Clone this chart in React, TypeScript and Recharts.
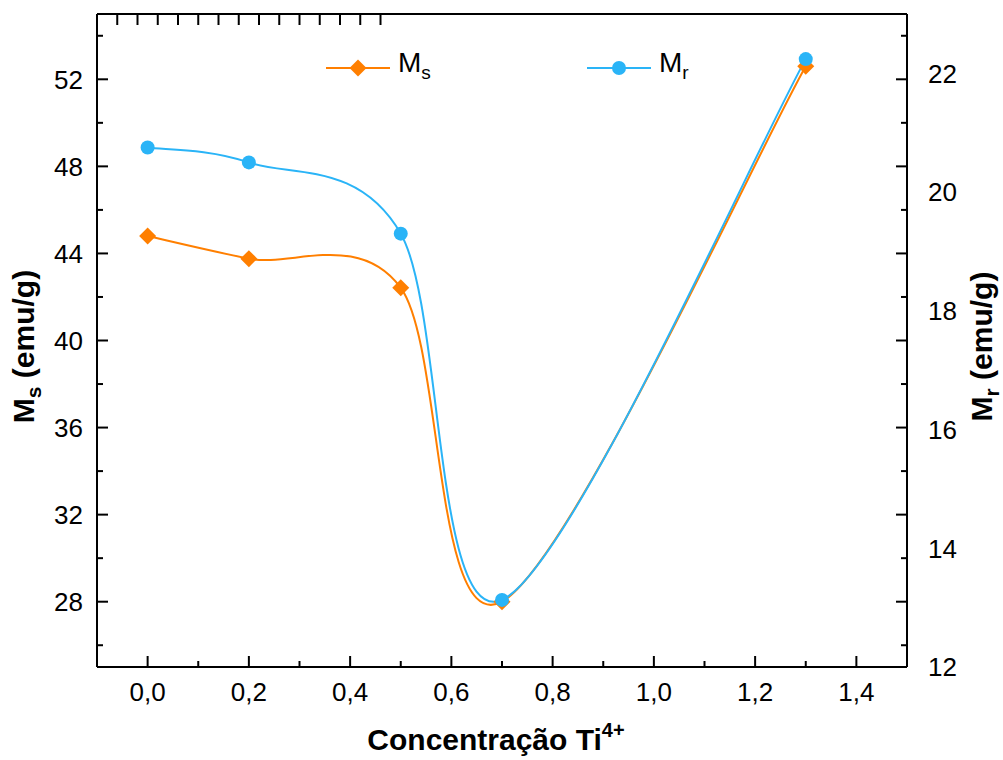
import { ComposedChart, Line, XAxis, YAxis, Legend } from 'recharts';

const TI_CONTENT = [0, 0.2, 0.5, 0.7, 1.3];
const MS_VALUES = [44.8, 43.76, 42.42, 28.0, 52.6];
const MR_VALUES = [20.75, 20.5, 19.3, 13.13, 22.24];

const X_DOMAIN = [-0.1, 1.5];
const X_TICKS = [0, 0.1, 0.2, 0.3, 0.4, 0.5, 0.6, 0.7, 0.8, 0.9, 1.0, 1.1, 1.2, 1.3, 1.4];
const MS_DOMAIN = [25, 55];
const MS_TICKS = [26, 28, 30, 32, 34, 36, 38, 40, 42, 44, 46, 48, 50, 52, 54];
const MR_DOMAIN = [12, 23];
const MR_TICKS = [12, 14, 16, 18, 20, 22];

const ORANGE = '#FF7F00';
const BLUE = '#2AB4F7';
const FONT = '"Liberation Sans", Arial, Helvetica, sans-serif';

const rows = TI_CONTENT.map((x, i) => ({ x, ms: MS_VALUES[i], mr: MR_VALUES[i] }));

// uniform catmull-rom spline through the points (like Origin's spline connection)
const splineCurve = (context: any) => {
  let pts: number[][] = [];
  return {
    areaStart() {},
    areaEnd() {},
    lineStart() {
      pts = [];
    },
    point(x: number, y: number) {
      pts.push([+x, +y]);
    },
    lineEnd() {
      if (!pts.length) return;
      context.moveTo(pts[0][0], pts[0][1]);
      for (let i = 0; i < pts.length - 1; i++) {
        const p0 = pts[i - 1] || pts[i];
        const p1 = pts[i];
        const p2 = pts[i + 1];
        const p3 = pts[i + 2] || p2;
        context.bezierCurveTo(
          p1[0] + (p2[0] - p0[0]) / 6,
          p1[1] + (p2[1] - p0[1]) / 6,
          p2[0] - (p3[0] - p1[0]) / 6,
          p2[1] - (p3[1] - p1[1]) / 6,
          p2[0],
          p2[1],
        );
      }
    },
  };
};

const isMajorX = (v: number) => Math.round(v * 10) % 2 === 0;
const fmt = (v: number) => v.toFixed(1).replace('.', ',');

function BottomTick({ x, y, payload }: any) {
  const major = isMajorX(payload.value);
  return (
    <g>
      <line x1={x} x2={x} y1={y} y2={y - (major ? 11 : 6)} stroke="#000" strokeWidth={2} />
      {major && (
        <text x={x} y={y + 34} textAnchor="middle" fontSize={26} fontFamily={FONT} fill="#000">
          {fmt(payload.value)}
        </text>
      )}
    </g>
  );
}

function TopTick({ x, y }: any) {
  return <line x1={x} x2={x} y1={y} y2={y + 11} stroke="#000" strokeWidth={2} />;
}

function LeftTick({ x, y, payload }: any) {
  const major = payload.value % 4 === 0;
  return (
    <g>
      <line x1={x} x2={x + (major ? 11 : 6)} y1={y} y2={y} stroke="#000" strokeWidth={2} />
      {major && (
        <text x={x - 14} y={y} dy="0.36em" textAnchor="end" fontSize={26} fontFamily={FONT} fill="#000">
          {payload.value}
        </text>
      )}
    </g>
  );
}

function MirrorTick({ x, y, payload }: any) {
  const major = payload.value % 4 === 0;
  return <line x1={x} x2={x - (major ? 11 : 6)} y1={y} y2={y} stroke="#000" strokeWidth={2} />;
}

function RightTick({ x, y, payload }: any) {
  return (
    <text x={x + 20} y={y} dy="0.36em" textAnchor="start" fontSize={26} fontFamily={FONT} fill="#000">
      {payload.value}
    </text>
  );
}

function Diamond({ cx, cy, fill }: any) {
  if (cx == null || cy == null) return null;
  const r = 8.5;
  return <polygon points={`${cx},${cy - r} ${cx + r},${cy} ${cx},${cy + r} ${cx - r},${cy}`} fill={fill} />;
}

function Dot({ cx, cy, fill }: any) {
  if (cx == null || cy == null) return null;
  return <circle cx={cx} cy={cy} r={7} fill={fill} />;
}

const bottomTitle = ({ viewBox }: any) => (
  <text
    x={viewBox.x + viewBox.width / 2 - 6}
    y={viewBox.y + 83}
    textAnchor="middle"
    fontSize={30}
    fontWeight="bold"
    fontFamily={FONT}
    fill="#000"
  >
    Concentração Ti
    <tspan fontSize={20} dy={-13}>4+</tspan>
  </text>
);

const sideTitle = (main: string, sub: string, dx: number) => ({ viewBox }: any) => {
  const cx = viewBox.x + dx;
  const cy = viewBox.y + viewBox.height / 2 + 6;
  return (
    <text
      x={cx}
      y={cy}
      transform={`rotate(-90, ${cx}, ${cy})`}
      textAnchor="middle"
      fontSize={30}
      fontWeight="bold"
      fontFamily={FONT}
      fill="#000"
    >
      {main}
      <tspan fontSize={21} dy={7}>{sub}</tspan>
      <tspan dy={-7}> (emu/g)</tspan>
    </text>
  );
};

const LEGEND_LEFT: Record<string, number> = { ms: 325, mr: 586 };
const LEGEND_SUB: Record<string, string> = { ms: 's', mr: 'r' };

function LegendBox({ payload }: any) {
  return (
    <div style={{ position: 'relative', width: 1003, height: 0, fontFamily: FONT }}>
      {(payload || []).map((item: any) => (
        <div
          key={item.dataKey}
          style={{
            position: 'absolute',
            left: LEGEND_LEFT[item.dataKey],
            top: 54,
            height: 28,
            display: 'flex',
            alignItems: 'center',
            whiteSpace: 'nowrap',
          }}
        >
          <svg width={66} height={28}>
            <line x1={1} x2={65} y1={14} y2={14} stroke={item.color} strokeWidth={2} />
            {item.dataKey === 'ms' ? (
              <Diamond cx={33} cy={14} fill={item.color} />
            ) : (
              <Dot cx={33} cy={14} fill={item.color} />
            )}
          </svg>
          <span style={{ marginLeft: 7, fontSize: 28, lineHeight: '28px', color: '#000' }}>
            M
            <span style={{ fontSize: 19, verticalAlign: -7 }}>{LEGEND_SUB[item.dataKey]}</span>
          </span>
        </div>
      ))}
    </div>
  );
}

export default function App() {
  return (
    <div style={{ position: 'absolute', left: 0, top: 0, background: '#fff' }}>
      <ComposedChart width={1003} height={760} data={rows} margin={{ top: 13, right: 0, bottom: 0, left: 0 }}>
        <XAxis
          xAxisId="b"
          dataKey="x"
          type="number"
          domain={X_DOMAIN}
          ticks={X_TICKS}
          interval={0}
          allowDataOverflow
          height={93}
          tickSize={0}
          tickMargin={0}
          tickLine={false}
          axisLine={{ stroke: '#000', strokeWidth: 2 }}
          tick={<BottomTick />}
          label={bottomTitle}
        />
        <XAxis
          xAxisId="t"
          orientation="top"
          type="number"
          domain={X_DOMAIN}
          ticks={X_TICKS}
          interval={0}
          allowDataOverflow
          height={1}
          tickSize={0}
          tickMargin={0}
          tickLine={false}
          axisLine={{ stroke: '#000', strokeWidth: 2 }}
          tick={<TopTick />}
        />
        <YAxis
          yAxisId="ms"
          type="number"
          domain={MS_DOMAIN}
          ticks={MS_TICKS}
          interval={0}
          allowDataOverflow
          width={97}
          tickSize={0}
          tickMargin={0}
          tickLine={false}
          axisLine={{ stroke: '#000', strokeWidth: 2 }}
          tick={<LeftTick />}
          label={sideTitle('M', 's', 34)}
        />
        <YAxis
          yAxisId="a_msMirror"
          orientation="right"
          type="number"
          domain={MS_DOMAIN}
          ticks={MS_TICKS}
          interval={0}
          allowDataOverflow
          width={1}
          tickSize={0}
          tickMargin={0}
          tickLine={false}
          axisLine={{ stroke: '#000', strokeWidth: 2 }}
          tick={<MirrorTick />}
        />
        <YAxis
          yAxisId="b_mr"
          orientation="right"
          type="number"
          domain={MR_DOMAIN}
          ticks={MR_TICKS}
          interval={0}
          allowDataOverflow
          width={95}
          tickSize={0}
          tickMargin={0}
          tickLine={false}
          axisLine={false}
          tick={<RightTick />}
          label={sideTitle('M', 'r', 84)}
        />
        <Legend
          content={<LegendBox />}
          verticalAlign="middle"
          align="center"
          wrapperStyle={{ left: 0, top: 0, width: 1003, height: 0 }}
        />
        <Line
          xAxisId="b"
          yAxisId="ms"
          dataKey="ms"
          name="Ms"
          type={splineCurve as any}
          stroke={ORANGE}
          strokeWidth={2}
          dot={<Diamond fill={ORANGE} />}
          activeDot={false}
          isAnimationActive={false}
        />
        <Line
          xAxisId="b"
          yAxisId="b_mr"
          dataKey="mr"
          name="Mr"
          type={splineCurve as any}
          stroke={BLUE}
          strokeWidth={2}
          dot={<Dot fill={BLUE} />}
          activeDot={false}
          isAnimationActive={false}
        />
      </ComposedChart>
    </div>
  );
}
